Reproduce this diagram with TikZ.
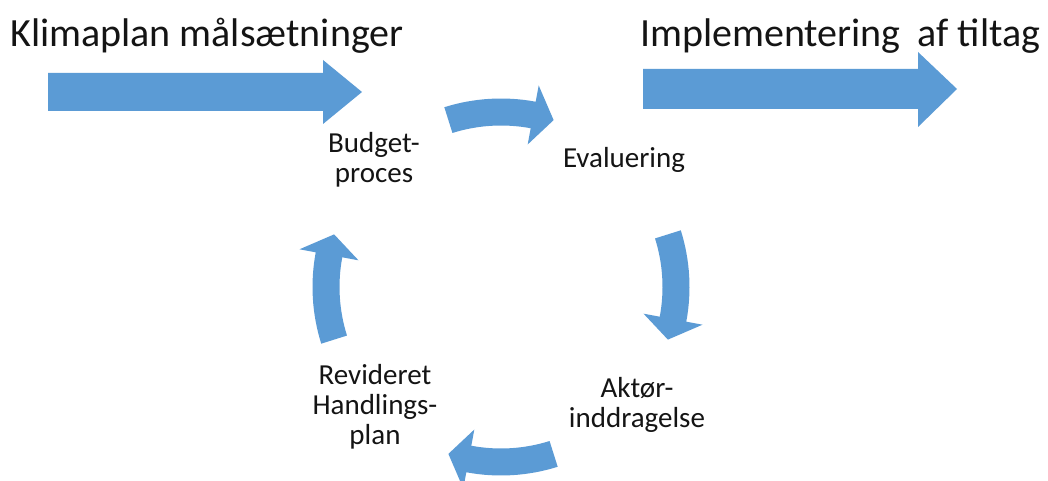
\documentclass[tikz,border=0pt]{standalone}
\usepackage{fontspec}
\setmainfont{Carlito}
\definecolor{accent}{RGB}{91,155,213}
\definecolor{txt}{RGB}{20,20,20}
% curved cycle arrow: #1 = angle of the tail (arrow runs clockwise)
\newcommand\cycarrow[1]{%
  \pgfmathsetmacro\cycbase{#1-28.1}%
  \pgfmathsetmacro\cyctip{#1-35}%
  \fill[accent] ([shift={(#1:188.5)}]c) arc[start angle=#1, end angle=\cycbase, radius=188.5]
    -- ([shift={(\cycbase:205)}]c) -- ([shift={(\cyctip:175)}]c) -- ([shift={(\cycbase:145)}]c)
    -- ([shift={(\cycbase:161.5)}]c) arc[start angle=\cycbase, end angle=#1, radius=161.5] -- cycle;}
\begin{document}
\begin{tikzpicture}[x=1pt,y=1pt,
  big/.style={fill=accent},
  title/.style={font=\fontsize{40}{48}\selectfont,text=txt,inner sep=0pt,anchor=base west},
  lbl/.style={font=\fontsize{29}{30}\selectfont,text=txt,inner sep=0pt,align=center,anchor=base}]
\useasboundingbox[fill=white] (0,0) rectangle (1048,481);
% titles
\node[title] (t1) at (10,434) {Klimaplan målsætninger};
\node[title] (t2) at (640,434) {Implementering\hspace{17pt}af tiltag};
% big arrows
\fill[big] (48,408) -- (323,408) -- (323,421) -- (362,389) -- (323,357) -- (323,370) -- (48,370) -- cycle;
\fill[big] (643,412) -- (918,412) -- (918,429) -- (957,392) -- (918,354) -- (918,372) -- (643,372) -- cycle;
% cycle arrows
\coordinate (c) at (501,194);
\cycarrow{107.5}
\cycarrow{17.5}
\cycarrow{-72.5}
\cycarrow{197.5}
% labels (base = baseline of last line)
\node[lbl] (budget) at (374,298) {Budget-\\proces};
\node[lbl] (eval) at (624,313) {Evaluering};
\node[lbl] (aktor) at (637,53) {Aktør-\\inddragelse};
\node[lbl] (revid) at (375,36) {Revideret\\Handlings-\\plan};
\end{tikzpicture}
\end{document}
